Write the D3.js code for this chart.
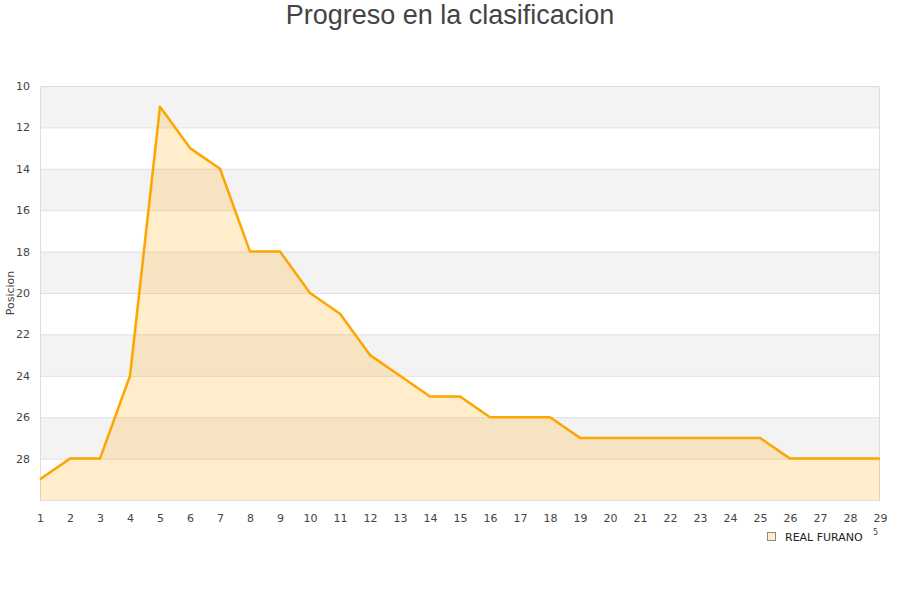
<!DOCTYPE html>
<html><head><meta charset="utf-8">
<script src="https://cdn.jsdelivr.net/npm/d3@7"></script>
<style>body{margin:0;background:#fff}svg{display:block}</style>
</head><body><svg id="c" width="900" height="600"></svg>
<script>
const jornadas = [1,2,3,4,5,6,7,8,9,10,11,12,13,14,15,16,17,18,19,20,21,22,23,24,25,26,27,28,29];
const posiciones = [29,28,28,24,11,13,14,18,18,20,21,23,24,25,25,26,26,26,27,27,27,27,27,27,27,28,28,28,28];
const yTicks = [10,12,14,16,18,20,22,24,26,28];
const seriesName = "REAL FURANO";
const title = "Progreso en la clasificacion";
const yLabel = "Posicion";

const svg = d3.select("#c");
const L=40,R=880,T=86,B=500;
const x = d3.scaleLinear().domain([1,29]).range([L,R]);
const y = d3.scaleLinear().domain([10,30]).range([T,B]);

const bands=[10,14,18,22,26];
svg.selectAll("rect.band").data(bands).enter().append("rect")
 .attr("x",L).attr("width",R-L).attr("y",d=>y(d)).attr("height",d=>y(d+2)-y(d)).attr("fill","#f3f3f3");
svg.selectAll("line.g").data(yTicks.concat([30])).enter().append("line")
 .attr("x1",L).attr("x2",R).attr("y1",d=>y(d)+0.5).attr("y2",d=>y(d)+0.5).attr("stroke","#e0e0e0");
svg.append("rect").attr("x",L+0.5).attr("y",T+0.5).attr("width",R-L-1).attr("height",B-T).attr("fill","none").attr("stroke","#dddddd");

const area = d3.area().x((d,i)=>x(jornadas[i])).y0(y(30)).y1(d=>y(d));
svg.append("path").datum(posiciones).attr("d",area).attr("fill","#ffa500").attr("fill-opacity",0.2);
const line = d3.line().x((d,i)=>x(jornadas[i])).y(d=>y(d));
svg.append("path").datum(posiciones).attr("d",line).attr("fill","none").attr("stroke","#ffa500").attr("stroke-width",2.5).attr("stroke-linejoin","round");

const yAxis = d3.axisLeft(y).tickValues(yTicks).tickSize(0).tickPadding(10);
const ya = svg.append("g").attr("transform",`translate(${L},0)`).call(yAxis);
ya.select(".domain").remove();
ya.selectAll("text").attr("font-family","DejaVu Sans, sans-serif").attr("font-size",11).attr("fill","#444");

const xAxis = d3.axisBottom(x).tickValues(jornadas).tickFormat(d3.format("d")).tickSize(0).tickPadding(14);
const xa = svg.append("g").attr("transform",`translate(0,${B})`).call(xAxis);
xa.select(".domain").remove();
xa.selectAll("text").attr("font-family","DejaVu Sans, sans-serif").attr("font-size",11).attr("fill","#444");

svg.append("text").attr("x",450).attr("y",24).attr("text-anchor","middle")
 .attr("font-family","Liberation Sans, Arial, sans-serif").attr("font-size",27).attr("fill","#444").text(title);
svg.append("text").attr("transform","translate(14,293) rotate(-90)").attr("text-anchor","middle")
 .attr("font-family","DejaVu Sans, sans-serif").attr("font-size",11).attr("fill","#444").text(yLabel);

svg.append("rect").attr("x",767.5).attr("y",532.5).attr("width",8).attr("height",8).attr("fill","#ffedcc").attr("stroke","#888");
svg.append("text").attr("x",785).attr("y",540.5).attr("font-family","DejaVu Sans, sans-serif").attr("font-size",11).attr("fill","#222").text(seriesName);
svg.append("text").attr("x",873).attr("y",535).attr("font-family","DejaVu Sans, sans-serif").attr("font-size",8).attr("fill","#444").text("5");
</script></body></html>
